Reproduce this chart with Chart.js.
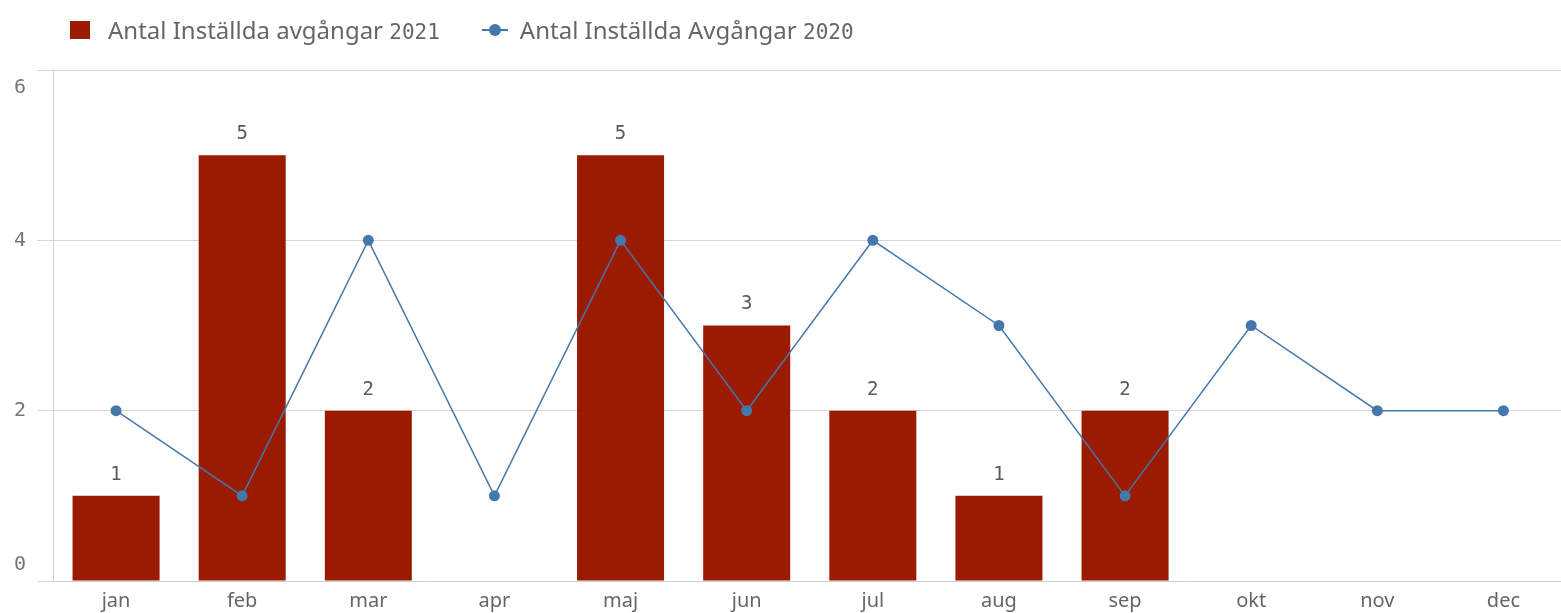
<!DOCTYPE html>
<html>
<head>
<meta charset="utf-8">
<script src="https://cdn.jsdelivr.net/npm/chart.js@4/dist/chart.umd.min.js"></script>
<style>
  html, body { margin: 0; padding: 0; background: #fff; overflow: hidden; }
  #wrap { position: relative; width: 1561px; height: 613px; overflow: hidden; }
  #legend { position: absolute; left: 70px; top: 13px; display: flex; align-items: center;
            font-family: 'Noto Sans', sans-serif; font-size: 24px; color: #666; }
  #legend .item { display: flex; align-items: center; margin-right: 42px; }
  #legend .sq { width: 20px; height: 18px; background: #9a1b00; margin-right: 18px; }
  #legend .ln { position: relative; width: 26px; height: 16px; margin-right: 12px; }
  #legend .ln::before { content: ''; position: absolute; left: 0; right: 0; top: 7px; height: 2px; background: #4477aa; }
  #legend .ln::after { content: ''; position: absolute; left: 7px; top: 2px; width: 12px; height: 12px; border-radius: 50%; background: #4477aa; }
  #legend .num { font-family: 'DejaVu Sans Mono', monospace; font-size: 21px; }
  #chart { position: absolute; left: 0; top: 0; }
</style>
</head>
<body>
<div id="wrap">
  <canvas id="chart" width="1572" height="613"></canvas>
  <div id="legend">
    <div class="item"><span class="sq"></span><span>Antal Inställda avgångar <span class="num">2021</span></span></div>
    <div class="item"><span class="ln"></span><span>Antal Inställda Avgångar <span class="num">2020</span></span></div>
  </div>
</div>
<script>
// Data
const months = ['jan', 'feb', 'mar', 'apr', 'maj', 'jun', 'jul', 'aug', 'sep', 'okt', 'nov', 'dec'];
const values2021 = [1, 5, 2, null, 5, 3, 2, 1, 2, null, null, null];
const values2020 = [2, 1, 4, 1, 4, 2, 4, 3, 1, 3, 2, 2];
const yTicks = [0, 2, 4, 6];

const monoFont = "'DejaVu Sans Mono', monospace";

// Etiketter ovanför staplarna
const barLabels = {
    id: 'barLabels',
    afterDatasetsDraw(chart) {
        const ctx = chart.ctx;
        const meta = chart.getDatasetMeta(1);
        ctx.save();
        ctx.font = '19px ' + monoFont;
        ctx.fillStyle = '#5a5a5a';
        ctx.textAlign = 'center';
        ctx.textBaseline = 'middle';
        meta.data.forEach((bar, i) => {
            const v = values2021[i];
            if (v === null) return;
            ctx.fillText(String(v), bar.x, bar.y - 21);
        });
        ctx.restore();
    }
};

// Y-axelns etiketter, kantvärdena hålls inom ritytan
const yLabels = {
    id: 'yLabels',
    afterDraw(chart) {
        const ctx = chart.ctx;
        const y = chart.scales.y;
        ctx.save();
        ctx.font = '20px ' + monoFont;
        ctx.fillStyle = '#777';
        ctx.textAlign = 'center';
        ctx.textBaseline = 'middle';
        yTicks.forEach(v => {
            let py = y.getPixelForValue(v);
            if (v === y.max) py += 18;
            else if (v === y.min) py -= 16;
            ctx.fillText(String(v), 20, py);
        });
        ctx.restore();
    }
};

new Chart(document.getElementById('chart').getContext('2d'), {
    type: 'bar',
    data: {
        labels: months,
        datasets: [{
            type: 'line',
            label: 'Antal Inställda Avgångar 2020',
            data: values2020,
            borderColor: '#4477aa',
            backgroundColor: '#4477aa',
            borderWidth: 1.5,
            pointRadius: 5.5,
            pointBorderWidth: 0,
            tension: 0,
            order: 0
        }, {
            type: 'bar',
            label: 'Antal Inställda avgångar 2021',
            data: values2021,
            backgroundColor: '#9a1b00',
            barPercentage: 0.69,
            categoryPercentage: 1,
            order: 1
        }]
    },
    options: {
        responsive: false,
        animation: false,
        layout: { padding: { left: 37, top: 70, right: 0, bottom: 0 } },
        plugins: {
            legend: { display: false },
            tooltip: { enabled: false }
        },
        scales: {
            x: {
                grid: { display: false },
                border: { display: true, color: '#d0d0d0', width: 1 },
                ticks: {
                    color: '#666',
                    font: { family: "'Noto Sans', sans-serif", size: 20 },
                    padding: 0
                }
            },
            y: {
                min: 0,
                max: 6,
                ticks: { stepSize: 2, display: false },
                grid: { color: '#d6d6d6', tickLength: 16, drawTicks: true },
                border: { display: true, color: '#d0d0d0', width: 1 }
            }
        }
    },
    plugins: [barLabels, yLabels]
});
</script>
</body>
</html>
